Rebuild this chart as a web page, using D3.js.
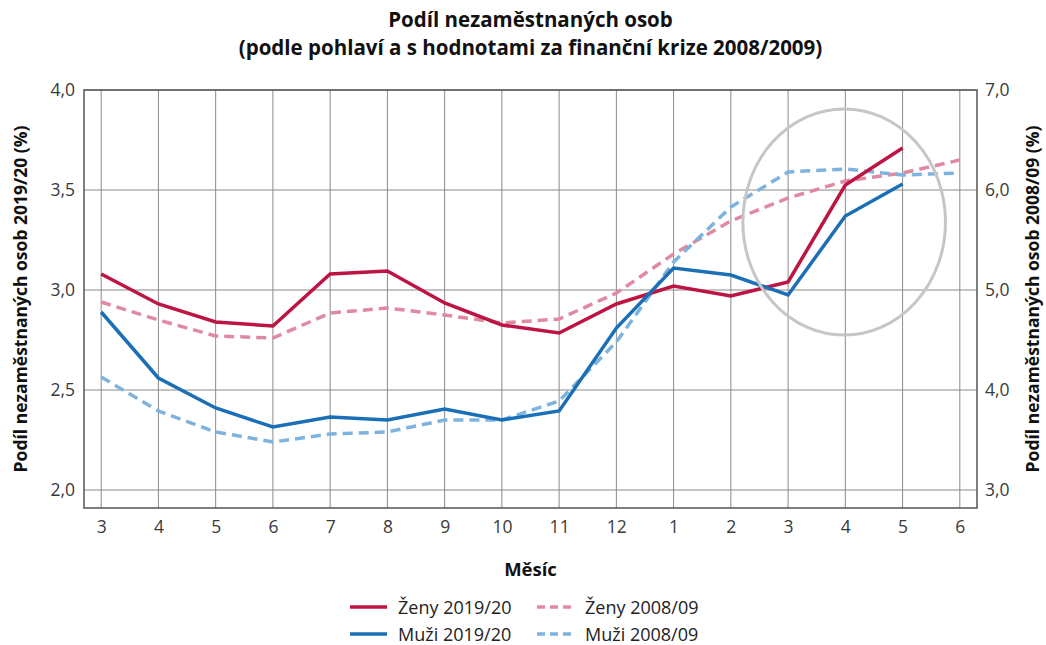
<!DOCTYPE html>
<html>
<head>
<meta charset="utf-8" />
<title>Podíl nezaměstnaných osob</title>
<style>
  body { margin: 0; background: #fff; }
  text { font-family: "Open Sans", "Liberation Sans", sans-serif; }
</style>
</head>
<body>
<svg id="chart" width="1046" height="645"></svg>
<script src="https://d3js.org/d3.v7.min.js"></script>
<script>
// months on the x axis (March 2019/2008 .. June 2020/2009)
var months = ["3", "4", "5", "6", "7", "8", "9", "10", "11", "12", "1", "2", "3", "4", "5", "6"];

// left axis, 2019/20 (%)
var zeny1920 = [3.08, 2.93, 2.84, 2.82, 3.08, 3.095, 2.935, 2.825, 2.785, 2.93, 3.02, 2.97, 3.04, 3.525, 3.71];
var muzi1920 = [2.89, 2.56, 2.41, 2.315, 2.365, 2.35, 2.405, 2.35, 2.395, 2.81, 3.11, 3.075, 2.975, 3.37, 3.53];

// right axis, 2008/09 (%)
var zeny0809 = [4.88, 4.70, 4.54, 4.52, 4.77, 4.82, 4.75, 4.67, 4.71, 4.97, 5.36, 5.69, 5.92, 6.09, 6.17, 6.30];
var muzi0809 = [4.13, 3.79, 3.58, 3.48, 3.56, 3.58, 3.70, 3.70, 3.89, 4.48, 5.28, 5.83, 6.18, 6.21, 6.15, 6.17];

var leftTicks = [2.0, 2.5, 3.0, 3.5, 4.0];
var rightTicks = [3, 4, 5, 6, 7];

var svg = d3.select("#chart");
var plotLeft = 84, plotRight = 977, plotTop = 90, plotBottom = 508;

var x = d3.scaleLinear().domain([-0.3, 15.3]).range([plotLeft, plotRight]);
var yL = d3.scaleLinear().domain([2.0, 4.0]).range([490, plotTop]);
var yR = d3.scaleLinear().domain([3.0, 7.0]).range([490, plotTop]);

var fmt = function(d) { return d3.format(".1f")(d).replace(".", ","); };

// gridlines
var grid = svg.append("g");
grid.selectAll("line.v").data(months).enter().append("line")
  .attr("x1", function(d, i) { return x(i); })
  .attr("x2", function(d, i) { return x(i); })
  .attr("y1", plotTop).attr("y2", plotBottom)
  .attr("stroke", "#8a8a8a").attr("stroke-width", 1);
grid.selectAll("line.h").data(leftTicks).enter().append("line")
  .attr("x1", plotLeft).attr("x2", plotRight)
  .attr("y1", function(d) { return yL(d); })
  .attr("y2", function(d) { return yL(d); })
  .attr("stroke", "#8a8a8a").attr("stroke-width", 1);

svg.append("rect")
  .attr("x", plotLeft).attr("y", plotTop)
  .attr("width", plotRight - plotLeft).attr("height", plotBottom - plotTop)
  .attr("fill", "none").attr("stroke", "#555").attr("stroke-width", 1.5);

// axes
var axL = svg.append("g").attr("transform", "translate(" + plotLeft + ",0)")
  .call(d3.axisLeft(yL).tickValues(leftTicks).tickFormat(fmt).tickSize(0).tickPadding(9));
var axR = svg.append("g").attr("transform", "translate(" + plotRight + ",0)")
  .call(d3.axisRight(yR).tickValues(rightTicks).tickFormat(fmt).tickSize(0).tickPadding(8));
var axB = svg.append("g").attr("transform", "translate(0," + plotBottom + ")")
  .call(d3.axisBottom(x).tickValues(d3.range(months.length))
    .tickFormat(function(i) { return months[i]; }).tickSize(0).tickPadding(13));
[axL, axR, axB].forEach(function(a) {
  a.select(".domain").remove();
  a.selectAll("text").attr("font-size", 17.5).attr("fill", "#3a3a3a")
    .attr("font-family", "'Open Sans', sans-serif");
});

// series
var lineL = d3.line().x(function(d, i) { return x(i); }).y(function(d) { return yL(d); });
var lineR = d3.line().x(function(d, i) { return x(i); }).y(function(d) { return yR(d); });

var series = [
  { data: zeny0809, line: lineR, color: "#e08aa2", dash: "10,6" },
  { data: muzi0809, line: lineR, color: "#7db3de", dash: "10,6" },
  { data: zeny1920, line: lineL, color: "#bd1543", dash: null },
  { data: muzi1920, line: lineL, color: "#1b6fb6", dash: null }
];
series.forEach(function(s) {
  svg.append("path").datum(s.data)
    .attr("d", s.line)
    .attr("fill", "none")
    .attr("stroke", s.color)
    .attr("stroke-width", 3.5)
    .attr("stroke-dasharray", s.dash);
});

// highlight ellipse around the last months
svg.append("ellipse")
  .attr("cx", x(12.98)).attr("cy", yL(3.34))
  .attr("rx", x(1.77) - x(0)).attr("ry", yL(3.0) - yL(3.565))
  .attr("fill", "none").attr("stroke", "#c6c6c6").attr("stroke-width", 3);

// titles
var midX = (plotLeft + plotRight) / 2;
svg.append("text").attr("x", midX).attr("y", 27).attr("text-anchor", "middle")
  .attr("font-size", 20.5).attr("font-weight", "bold").attr("fill", "#111")
  .text("Podíl nezaměstnaných osob");
svg.append("text").attr("x", midX).attr("y", 55).attr("text-anchor", "middle")
  .attr("font-size", 20.5).attr("font-weight", "bold").attr("fill", "#111")
  .text("(podle pohlaví a s hodnotami za finanční krize 2008/2009)");

svg.append("text").attr("transform", "translate(27," + ((plotTop + plotBottom) / 2) + ") rotate(-90)")
  .attr("text-anchor", "middle").attr("font-size", 17.5).attr("font-weight", "bold").attr("fill", "#111")
  .text("Podíl nezaměstnaných osob 2019/20 (%)");
svg.append("text").attr("transform", "translate(1039," + ((plotTop + plotBottom) / 2) + ") rotate(-90)")
  .attr("text-anchor", "middle").attr("font-size", 17.5).attr("font-weight", "bold").attr("fill", "#111")
  .text("Podíl nezaměstnaných osob 2008/09 (%)");

svg.append("text").attr("x", midX).attr("y", 576).attr("text-anchor", "middle")
  .attr("font-size", 18.5).attr("font-weight", "bold").attr("fill", "#111")
  .text("Měsíc");

// legend
var legend = [
  { label: "Ženy 2019/20", color: "#bd1543", dash: null, lx: 350, ly: 607 },
  { label: "Muži 2019/20", color: "#1b6fb6", dash: null, lx: 350, ly: 634 },
  { label: "Ženy 2008/09", color: "#e08aa2", dash: "8,5", lx: 537, ly: 607 },
  { label: "Muži 2008/09", color: "#7db3de", dash: "8,5", lx: 537, ly: 634 }
];
var lg = svg.append("g").selectAll("g").data(legend).enter().append("g");
lg.append("line")
  .attr("x1", function(d) { return d.lx; })
  .attr("x2", function(d) { return d.lx + 37; })
  .attr("y1", function(d) { return d.ly; })
  .attr("y2", function(d) { return d.ly; })
  .attr("stroke", function(d) { return d.color; })
  .attr("stroke-width", 3.5)
  .attr("stroke-dasharray", function(d) { return d.dash; });
lg.append("text")
  .attr("x", function(d) { return d.lx + 48; })
  .attr("y", function(d) { return d.ly + 6.5; })
  .attr("font-size", 18).attr("fill", "#222")
  .text(function(d) { return d.label; });
</script>
</body>
</html>
